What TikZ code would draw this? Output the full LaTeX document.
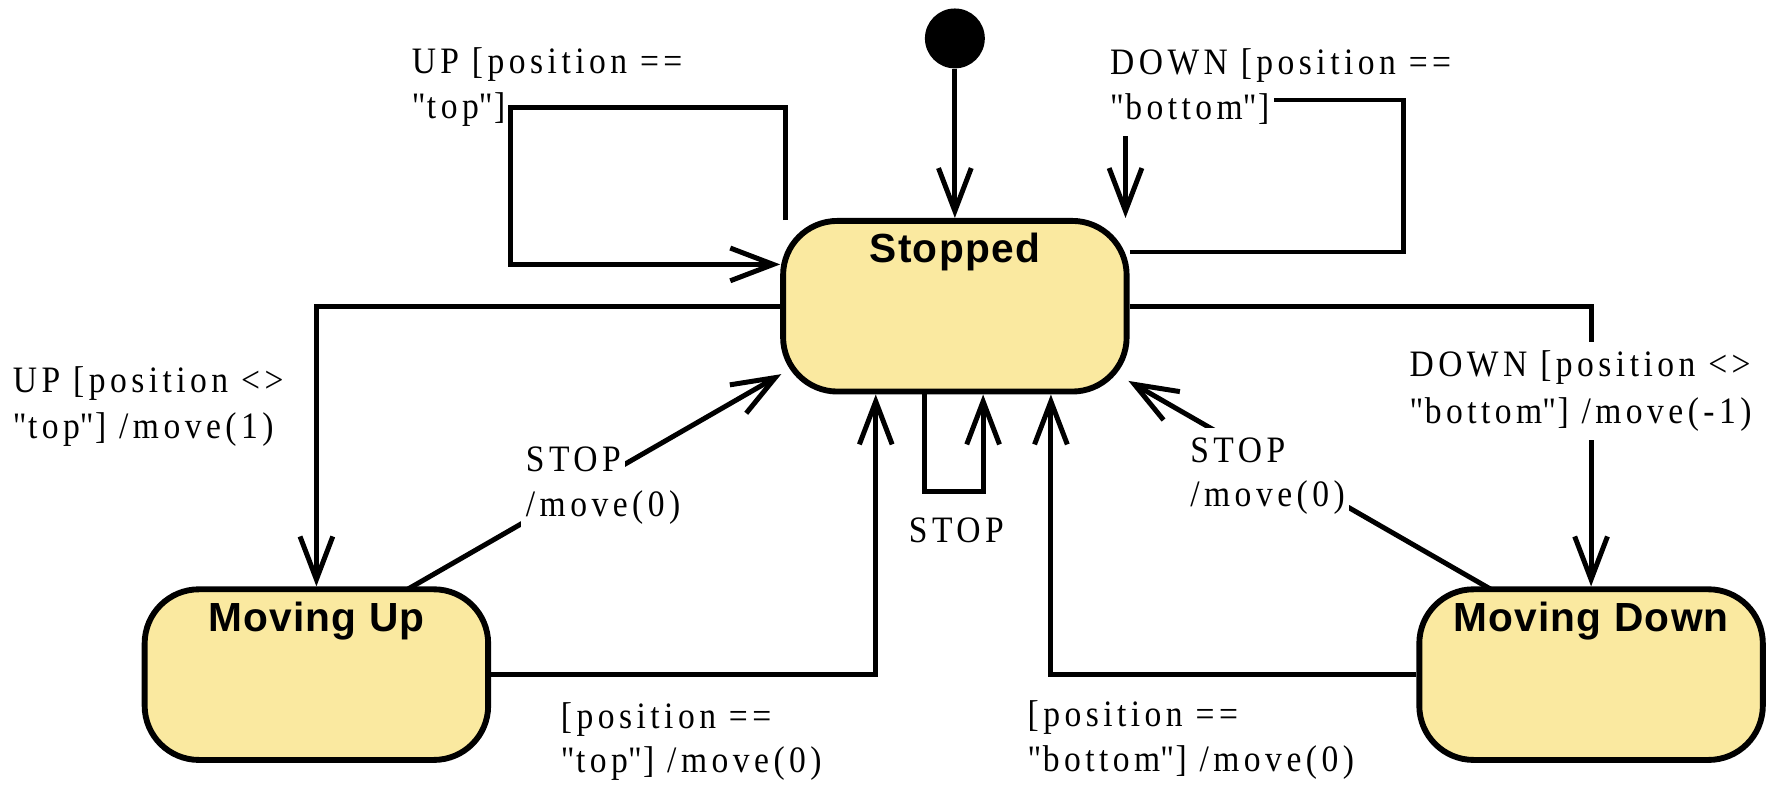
\documentclass[tikz,border=0pt]{standalone}
\usepackage{fontspec}
\setmainfont{Liberation Serif}[LetterSpace=12,FakeStretch=0.9]
\newfontfamily\statefont{Liberation Sans}[LetterSpace=3]
\usetikzlibrary{arrows.meta,calc}
\definecolor{statefill}{RGB}{250,233,160}
\newcommand{\dq}{\textquotedbl}
\tikzset{
  state/.style={rectangle, rounded corners=24pt, draw=black, line width=2.6pt,
    fill=statefill, minimum width=152pt, minimum height=75.5pt, inner sep=0pt},
  stname/.style={anchor=base, inner sep=0pt,
    font=\statefont\bfseries\fontsize{18pt}{21pt}\selectfont},
  lbl/.style={anchor=base west, inner sep=0pt,
    font=\fontsize{16.5pt}{20pt}\selectfont},
  mask/.style={fill=white, inner xsep=2pt, inner ysep=1pt},
  tr/.style={draw=black, line width=2.2pt,
    -{Straight Barb[length=19pt,width=14.5pt]}},
  initdot/.style={circle, fill=black, minimum size=26.5pt, inner sep=0pt}
}
\begin{document}
\begin{tikzpicture}[x=0.5pt,y=-0.5pt]
\useasboundingbox (0,0) rectangle (1569,700);

% states
\node[initdot] (init) at (845,34) {};
\node[state] (S)  at (845,271) {};
\node[state] (MU) at (280,597) {};
\node[state] (MD) at (1408,597) {};
\node[stname] (Sn)  at ($(S.north)+(0,39)$)  {Stopped};
\node[stname] (MUn) at ($(MU.north)+(0,40)$) {Moving Up};
\node[stname] (MDn) at ($(MD.north)+(0,40)$) {Moving Down};

% bend points
\coordinate (uTL) at (452,95);
\coordinate (uBL) at (452,234);
\coordinate (dR1) at (1242,223);
\coordinate (dR2) at (1242,88.5);
\coordinate (dA)  at (996,88.5);
\coordinate (sL)  at (818,435);
\coordinate (sR)  at (870,435);
\coordinate (mu1) at (775,597);
\coordinate (md1) at (930,597);

% transitions
\draw[tr] (init) -- (S);
\draw[tr] ($(S.north west)+(5,2)$) |- (uTL) -- (uBL) -- (S.west |- uBL);
\draw[tr] (S.east |- dR1) -- (dR1) -- (dR2) -- (dA) -- (dA |- S.north);
\draw[tr] (S.west) -| (MU.north);
\draw[tr] (S.east) -| (MD.north);
\draw[tr] ($(MU.north)+(81,2.4)$) -- ($(S.south west)+(1,-18)$);
\draw[tr] ($(MD.north)+(-89,2.4)$) -- ($(S.south east)+(-1,-12)$);
\draw[tr] (S.south -| sL) -- (sL) -- (sR) -- (S.south -| sR);
\draw[tr] (MU.east) -- (mu1) -- (mu1 |- S.south);
\draw[tr] (MD.west) -- (md1) -- (md1 |- S.south);

% labels
\node[lbl] (l1a) at (364,65)  {UP [position ==};
\node[lbl] (l1b) at (364,105) {\dq top\dq]};
\node[lbl] (l2a) at (982,66)  {DOWN [position ==};
\node[lbl,mask] (l2b) at (978,106) {\strut\dq bottom\dq]};
\node[lbl] (l3a) at (11,347)  {UP [position <>};
\node[lbl] (l3b) at (11,388)  {\dq top\dq] /move(1)};
\node[lbl,mask] (l4a) at (1243,333) {\strut DOWN [position <>};
\node[lbl,mask] (l4b) at (1243,375) {\strut\dq bottom\dq] /move(-1)};
\node[lbl,mask] (l5a) at (461,417) {\strut STOP};
\node[lbl,mask] (l5b) at (461,457) {\strut/move(0)};
\node[lbl,mask] (l6a) at (1049,409) {\strut\makebox[0pt][l]{STOP}\phantom{/move(0)}};
\node[lbl,mask] (l6b) at (1049,448) {\strut/move(0)};
\node[lbl] (l7) at (804,480) {STOP};
\node[lbl] (l8a) at (496,645) {[position ==};
\node[lbl] (l8b) at (496,684) {\dq top\dq] /move(0)};
\node[lbl] (l9a) at (909,643) {[position ==};
\node[lbl] (l9b) at (909,683) {\dq bottom\dq] /move(0)};
\end{tikzpicture}
\end{document}
